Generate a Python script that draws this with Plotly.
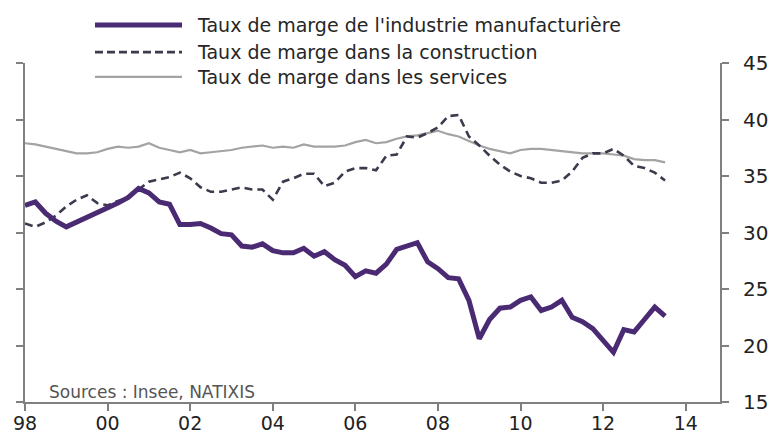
import plotly.graph_objects as go

# Quarterly data, 1998Q1 .. 2013Q3 (63 quarters)
start_year = 1998
n_quarters = 63
quarters = [start_year + 0.25 * k for k in range(n_quarters)]

industrie = [32.4, 32.7, 31.7, 31.0, 30.5, 30.9, 31.3, 31.8, 32.2, 32.6,
             33.1, 33.9, 33.5, 32.7, 32.5, 30.7, 30.7, 30.8, 30.4, 29.9,
             29.8, 28.8, 28.7, 29.0, 28.4, 28.2, 28.2, 28.6, 27.9, 28.3,
             27.6, 27.1, 26.1, 26.6, 26.4, 27.2, 28.5, 28.8, 29.1, 27.4,
             26.8, 26.0, 25.9, 24.0, 20.6, 22.3, 23.3, 23.4, 24.0, 24.3,
             23.1, 23.4, 24.0, 22.5, 22.1, 21.5, 20.5, 19.4, 21.4, 21.2,
             22.3, 23.4, 22.6]

construction = [30.8, 30.5, 30.9, 31.5, 32.3, 32.9, 33.3, 32.6, 32.4, 32.8,
                33.1, 33.8, 34.5, 34.7, 34.9, 35.3, 34.8, 34.0, 33.6, 33.6,
                33.8, 34.0, 33.8, 33.8, 32.9, 34.5, 34.8, 35.2, 35.2, 34.1,
                34.4, 35.4, 35.7, 35.7, 35.5, 36.8, 36.9, 38.5, 38.4, 38.8,
                39.3, 40.3, 40.4, 38.5, 37.7, 36.8, 36.0, 35.4, 35.0, 34.8,
                34.4, 34.4, 34.6, 35.4, 36.6, 37.0, 37.0, 37.4, 36.8, 35.9,
                35.7, 35.3, 34.6]

services = [37.9, 37.8, 37.6, 37.4, 37.2, 37.0, 37.0, 37.1, 37.4, 37.6,
            37.5, 37.6, 37.9, 37.5, 37.3, 37.1, 37.3, 37.0, 37.1, 37.2,
            37.3, 37.5, 37.6, 37.7, 37.5, 37.6, 37.5, 37.8, 37.6, 37.6,
            37.6, 37.7, 38.0, 38.2, 37.9, 38.0, 38.3, 38.5, 38.6, 38.8,
            39.0, 38.7, 38.5, 38.1, 37.7, 37.4, 37.2, 37.0, 37.3, 37.4,
            37.4, 37.3, 37.2, 37.1, 37.0, 37.0, 37.0, 36.9, 36.8, 36.5,
            36.4, 36.4, 36.2]

series_names = ["Taux de marge de l'industrie manufacturière",
                "Taux de marge dans la construction",
                "Taux de marge dans les services"]

x_tick_vals = [1998, 2000, 2002, 2004, 2006, 2008, 2010, 2012, 2014]
x_tick_text = ["98", "00", "02", "04", "06", "08", "10", "12", "14"]
y_tick_vals = [15, 20, 25, 30, 35, 40, 45]

source_text = "Sources : Insee, NATIXIS"

PURPLE = "#4a2a72"
DASH = "#3c3a4c"
GREY = "#a3a3a3"
AXIS = "#808080"
FONT = "DejaVu Sans"

fig = go.Figure()
fig.add_trace(go.Scatter(x=quarters, y=services, mode="lines",
                         line=dict(color=GREY, width=2.2), name=series_names[2]))
fig.add_trace(go.Scatter(x=quarters, y=construction, mode="lines",
                         line=dict(color=DASH, width=2.6, dash="8px,5px"),
                         name=series_names[1]))
fig.add_trace(go.Scatter(x=quarters, y=industrie, mode="lines",
                         line=dict(color=PURPLE, width=5), name=series_names[0]))

# manual legend (long line samples like the reference)
legend_styles = [dict(color=PURPLE, width=5),
                 dict(color=DASH, width=2.6, dash="8px,4px"),
                 dict(color=GREY, width=2.2)]
legend_y = [1.112, 1.032, 0.959]
for name, st, yy in zip(series_names, legend_styles, legend_y):
    fig.add_shape(type="line", xref="paper", yref="paper",
                  x0=0.1007, x1=0.2259, y0=yy, y1=yy, line=st)
    fig.add_annotation(xref="paper", yref="paper", x=0.2446, y=yy,
                       xanchor="left", yanchor="middle", text=name,
                       showarrow=False,
                       font=dict(family=FONT, size=19, color="#262626"))

fig.add_annotation(xref="paper", yref="paper", x=0.0317, y=0.0295,
                   xanchor="left", yanchor="middle", text=source_text,
                   showarrow=False,
                   font=dict(family=FONT, size=17, color="#555555"))

fig.update_layout(
    width=773, height=434,
    margin=dict(l=25, r=53, t=63, b=32),
    paper_bgcolor="white", plot_bgcolor="white",
    showlegend=False,
    xaxis=dict(range=[1998, 2014.83], tickvals=x_tick_vals, ticktext=x_tick_text,
               showline=True, linecolor=AXIS, linewidth=2,
               ticks="outside", ticklen=7, tickwidth=2, tickcolor=AXIS,
               showgrid=False, zeroline=False, automargin=False,
               ticklabelstandoff=-4,
               tickfont=dict(family=FONT, size=19, color="#222222")),
    yaxis=dict(range=[15, 45], tickvals=y_tick_vals, side="right",
               showline=True, linecolor=AXIS, linewidth=2, mirror="ticks",
               ticks="outside", ticklen=7, tickwidth=2, tickcolor=AXIS,
               showgrid=False, zeroline=False, ticklabelstandoff=10,
               automargin=False,
               tickfont=dict(family=FONT, size=20, color="#222222")),
)

fig.write_html("out.html")
